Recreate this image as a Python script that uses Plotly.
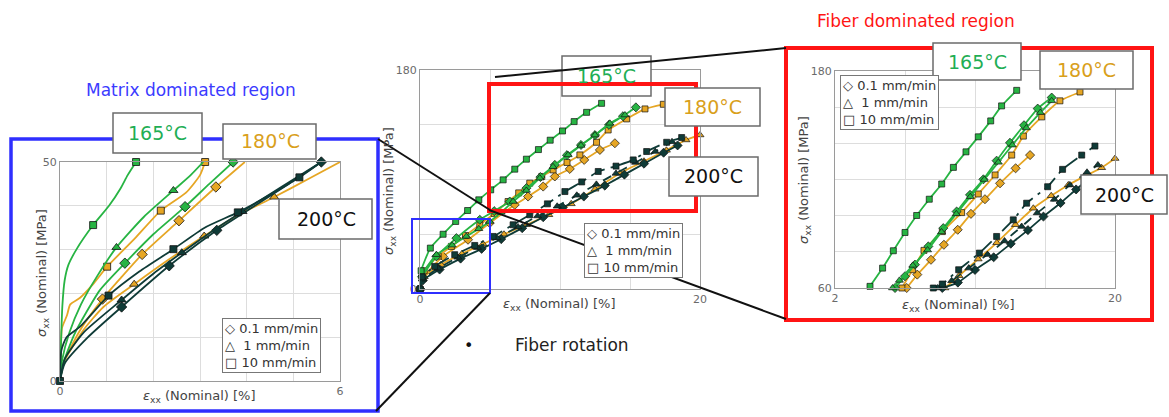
import plotly.graph_objects as go

# ---------------- data ----------------
TEMPS = ["165°C", "180°C", "200°C"]
RATES = ["0.1 mm/min", "1 mm/min", "10 mm/min"]

# Left inset: matrix dominated region (strain %, stress MPa) - line points
L165_01_X = [0, 0.07, 0.3, 0.57, 0.86, 1.39, 2.0, 2.68, 3.2, 3.71]
L165_01_Y = [0, 4, 10.5, 15.8, 20.8, 26.9, 33.5, 39.8, 45, 50]
L165_1_X = [0, 0.05, 0.2, 0.45, 0.8, 1.21, 1.8, 2.43, 2.8, 3.07]
L165_1_Y = [0, 5, 11, 17.5, 24, 30.5, 37.5, 43.5, 47, 50]
L165_10_X = [0, 0.02, 0.05, 0.1, 0.18, 0.35, 0.71, 1.05, 1.3, 1.45, 1.63]
L165_10_Y = [0, 8, 17, 23, 26.5, 30, 35.6, 40, 44, 47, 50]
L180_01_X = [0, 0.07, 0.43, 0.91, 1.3, 1.76, 2.55, 3.34, 3.96]
L180_01_Y = [0, 4, 11.6, 18.7, 23.5, 28.9, 36.6, 44.3, 50]
L180_1_X = [0, 0.07, 0.5, 0.93, 1.59, 2.3, 3.09, 3.8, 4.59, 5.3, 6.0]
L180_1_Y = [0, 4, 11.6, 16.9, 22.1, 27.5, 33.1, 37.8, 42, 46, 50]
L180_10_X = [0, 0.02, 0.04, 0.15, 0.22, 0.43, 0.7, 1.01, 1.6, 2.16, 2.7, 3.0, 3.11]
L180_10_Y = [0, 6, 12, 15, 17.5, 19, 22, 26.1, 32.5, 38.9, 43, 47, 50]
L200_01_X = [0, 0.1, 0.6, 1.32, 2.34, 3.36, 4.1, 4.9, 5.6]
L200_01_Y = [0, 4, 10, 16.9, 26.3, 34.4, 39.5, 45, 50]
L200_1_X = [0, 0.1, 0.5, 1.32, 2.0, 2.61, 3.3, 3.91, 4.7, 5.6]
L200_1_Y = [0, 5, 11, 18.5, 24.5, 29.3, 34.5, 38.7, 44, 50]
L200_10_X = [0, 0.03, 0.14, 0.43, 1.04, 1.7, 2.43, 3.1, 3.81, 4.5, 5.13, 5.6]
L200_10_Y = [0, 7, 10, 12.4, 19.5, 25, 30.1, 35, 38.5, 42.5, 46.5, 50]

# Left inset - marker points
LM165_01_X = [1.39, 2.68, 3.71]
LM165_01_Y = [26.9, 39.8, 50]
LM165_1_X = [1.21, 2.43]
LM165_1_Y = [30.5, 43.5]
LM165_10_X = [0.71, 1.63]
LM165_10_Y = [35.6, 50]
LM180_01_X = [0.91, 1.76, 2.55, 3.34]
LM180_01_Y = [18.7, 28.9, 36.6, 44.3]
LM180_1_X = [1.59, 3.09, 4.59]
LM180_1_Y = [22.1, 33.1, 42]
LM180_10_X = [1.01, 2.16, 3.11]
LM180_10_Y = [26.1, 38.9, 50]
LM200_01_X = [1.32, 2.34, 3.36, 5.6]
LM200_01_Y = [16.9, 26.3, 34.4, 50]
LM200_1_X = [1.32, 2.61, 3.91]
LM200_1_Y = [18.5, 29.3, 38.7]
LM200_10_X = [0, 1.04, 2.43, 3.81, 5.13]
LM200_10_Y = [0, 19.5, 30.1, 38.5, 46.5]

# Centre: full curves
C165_01_X = [0, 0.15, 1.17, 2.6, 4.27, 5.3, 6.41, 7.6, 8.6, 9.63, 10.5, 11.5, 12.5, 13.5, 14.5, 15.42]
C165_01_Y = [0, 10, 26.8, 41.8, 56.9, 64, 71.9, 82.9, 92, 102, 110, 118.4, 126.5, 134.9, 142, 149.3]
C165_1_X = [0, 0.15, 1.17, 2.3, 3.31, 4.2, 4.98, 5.8, 6.65, 7.6, 8.56, 9.5, 10.58, 11.5, 12.5, 13.56, 14.64]
C165_1_Y = [0, 12, 28.2, 36, 43.2, 49.5, 55.5, 63, 71.9, 81, 91.1, 100.5, 110.2, 118, 126.5, 136.2, 143]
C165_10_X = [0, 0.08, 0.74, 1.65, 2.55, 3.4, 4.2, 5.05, 5.94, 6.77, 7.6, 8.46, 9.3, 10.18, 11.01, 11.9, 12.97]
C165_10_Y = [0, 15, 33.6, 45, 55.5, 64.5, 73.3, 81.5, 89.7, 98.5, 106.7, 114.6, 122.3, 129.9, 137.6, 145.2, 152.6]
C180_01_X = [0, 0.2, 1.64, 3.43, 4.98, 6.77, 7.72, 8.8, 9.63, 10.7, 11.73, 12.85, 13.92]
C180_01_Y = [0, 9, 26.8, 40.5, 54.2, 69.2, 76, 84.2, 92.5, 98.7, 106.1, 114.3, 119.8]
C180_1_X = [0, 0.3, 1.5, 3, 4.5, 6, 7.6, 9.2, 10.8, 12.5, 14.28, 16, 17.6, 19, 20]
C180_1_Y = [0, 10, 20, 29, 37, 45, 52.8, 61, 70, 82, 95.2, 105, 114, 122.5, 126.6]
C180_10_X = [0, 0.3, 1.3, 2.24, 3.25, 4.27, 5.3, 6.29, 7.05, 7.84, 8.7, 9.51, 10.5, 11.42, 12.61, 13.44, 14.76, 16.07, 17.38]
C180_10_Y = [0, 15, 27, 35, 44, 52.8, 62, 71.9, 79, 87, 92.5, 97.9, 104, 110.2, 120.6, 130.7, 139.8, 148, 151.8]
C200_01_X = [0, 0.2, 1.4, 2.9, 4.4, 5.8, 7.3, 8.8, 10.2, 11.7, 13.2, 14.6, 16, 17.4, 18.4]
C200_01_Y = [0, 7, 16, 25, 33, 41, 50, 59, 67, 76, 85, 94, 103, 112, 118]
C200_1_X = [0, 0.2, 1.3, 2.7, 4.1, 5.5, 7, 8.4, 9.8, 11.2, 12.6, 14, 15.4, 16.8, 18]
C200_1_Y = [0, 8, 17, 26, 34, 42, 51, 60, 68, 77, 86, 95, 104, 113, 121]
C200_10_X = [0, 0.15, 1.05, 2.48, 3.91, 5.22, 6.65, 7.84, 9.1, 10.35, 11.55, 12.73, 14, 15.23, 16.19, 17.62, 18.69]
C200_10_Y = [0, 10, 18.6, 28.2, 35.8, 43.2, 52.8, 61, 70, 80.1, 88, 96.6, 101, 106.1, 113, 120.6, 124.5]

# Right inset: fibre dominated region
R165_01_X = [5.86, 6.5, 7.14, 8.0, 8.96, 9.82, 10.68, 11.54, 12.39, 13.25, 14.15, 15.03, 15.93]
R165_01_Y = [60, 66.5, 72.9, 83, 93.1, 102.3, 111.5, 120.1, 130.4, 140.3, 150, 159.2, 165.3]
R165_1_X = [5.7, 6.14, 7.0, 7.95, 8.85, 9.8, 10.7, 11.6, 12.5, 13.4, 14.3, 15.2, 15.93]
R165_1_Y = [60, 64.2, 72.5, 81, 91, 101, 110.5, 120, 129.5, 139, 148.5, 157, 163.5]
R165_10_X = [4.25, 5.06, 5.75, 6.5, 7.25, 8.06, 8.86, 9.61, 10.42, 11.21, 12.01, 12.71, 13.68]
R165_10_Y = [60.9, 71, 80.6, 90.7, 100.1, 109.1, 117.5, 126.7, 135.3, 143.6, 152.4, 160.7, 169.3]
R180_01_X = [6.61, 7.29, 8.17, 9.0, 9.89, 10.74, 11.64, 12.61, 13.61, 14.54]
R180_01_Y = [60, 67.4, 75.6, 83.9, 92.2, 101, 109.1, 117.9, 126.2, 133.5]
R180_1_X = [9.07, 9.97, 11.2, 12.4, 13.6, 14.75, 15.9, 17.0, 18.1, 19.14, 20]
R180_1_Y = [60, 66.8, 76, 85, 95, 104.1, 111, 117, 122, 126.5, 131.6]
R180_10_X = [6.3, 6.99, 7.72, 8.9, 10.14, 11.21, 12.29, 13.36, 14.11, 15.29, 16.46, 17.75]
R180_10_Y = [60, 70.1, 80.8, 91.2, 101.7, 112, 122.5, 133.5, 144, 154.6, 163.5, 168.4]
R200_01_X = [8.9, 9.9, 11.0, 12.2, 13.3, 14.4, 15.4, 16.5, 17.5, 18.4]
R200_01_Y = [60, 63, 70, 77, 84.5, 92, 99.5, 107, 114.5, 121]
R200_1_X = [8.6, 9.5, 10.6, 11.8, 12.9, 14.0, 15.0, 16.1, 17.1, 18.2, 18.9]
R200_1_Y = [60, 64, 71, 78.5, 86, 94, 101.5, 109, 117, 124, 128]
R200_10_X = [8.32, 8.9, 9.95, 11.28, 12.39, 13.46, 14.32, 15.67, 16.63, 17.86, 18.71]
R200_10_Y = [60, 62.2, 70.1, 79.3, 88.5, 97.7, 106.9, 116, 125.6, 133.5, 138.5]

# axis grid positions (only the end values are labelled)
L_XTICKS = [0, 1, 2, 3, 4, 5, 6]
L_YTICKS = [0, 10, 20, 30, 40, 50]
C_XTICKS = [0, 5, 10, 15, 20]
C_YTICKS = [0, 45, 90, 135, 180]
R_XTICKS = [2, 6.5, 11, 15.5, 20]
R_YTICKS = [60, 80, 100, 120, 140, 160, 180]

# ---------------- style ----------------
W, H = 1169, 417
FONT = "DejaVu Sans"
GREEN, ORANGE, TEAL = "#27b443", "#e6a624", "#0f3b37"
GREEN_T, ORANGE_T = "#1fae55", "#d9a01c"
BLUE, RED = "#2f2fff", "#ff1414"
COL = {"165°C": GREEN, "180°C": ORANGE, "200°C": TEAL}
SYM = {"0.1 mm/min": "diamond", "1 mm/min": "triangle-up", "10 mm/min": "square"}
MSIZE = {"0.1 mm/min": 8, "1 mm/min": 8, "10 mm/min": 7}


def px(x):
    return x / W


def py(y):
    return 1 - y / H


left = {
    ("165°C", "0.1 mm/min"): (L165_01_X, L165_01_Y, LM165_01_X, LM165_01_Y),
    ("165°C", "1 mm/min"): (L165_1_X, L165_1_Y, LM165_1_X, LM165_1_Y),
    ("165°C", "10 mm/min"): (L165_10_X, L165_10_Y, LM165_10_X, LM165_10_Y),
    ("180°C", "0.1 mm/min"): (L180_01_X, L180_01_Y, LM180_01_X, LM180_01_Y),
    ("180°C", "1 mm/min"): (L180_1_X, L180_1_Y, LM180_1_X, LM180_1_Y),
    ("180°C", "10 mm/min"): (L180_10_X, L180_10_Y, LM180_10_X, LM180_10_Y),
    ("200°C", "0.1 mm/min"): (L200_01_X, L200_01_Y, LM200_01_X, LM200_01_Y),
    ("200°C", "1 mm/min"): (L200_1_X, L200_1_Y, LM200_1_X, LM200_1_Y),
    ("200°C", "10 mm/min"): (L200_10_X, L200_10_Y, LM200_10_X, LM200_10_Y),
}
centre = {
    ("165°C", "0.1 mm/min"): (C165_01_X, C165_01_Y),
    ("165°C", "1 mm/min"): (C165_1_X, C165_1_Y),
    ("165°C", "10 mm/min"): (C165_10_X, C165_10_Y),
    ("180°C", "0.1 mm/min"): (C180_01_X, C180_01_Y),
    ("180°C", "1 mm/min"): (C180_1_X, C180_1_Y),
    ("180°C", "10 mm/min"): (C180_10_X, C180_10_Y),
    ("200°C", "0.1 mm/min"): (C200_01_X, C200_01_Y),
    ("200°C", "1 mm/min"): (C200_1_X, C200_1_Y),
    ("200°C", "10 mm/min"): (C200_10_X, C200_10_Y),
}
right = {
    ("165°C", "0.1 mm/min"): (R165_01_X, R165_01_Y),
    ("165°C", "1 mm/min"): (R165_1_X, R165_1_Y),
    ("165°C", "10 mm/min"): (R165_10_X, R165_10_Y),
    ("180°C", "0.1 mm/min"): (R180_01_X, R180_01_Y),
    ("180°C", "1 mm/min"): (R180_1_X, R180_1_Y),
    ("180°C", "10 mm/min"): (R180_10_X, R180_10_Y),
    ("200°C", "0.1 mm/min"): (R200_01_X, R200_01_Y),
    ("200°C", "1 mm/min"): (R200_1_X, R200_1_Y),
    ("200°C", "10 mm/min"): (R200_10_X, R200_10_Y),
}

fig = go.Figure()
ORDER = ["180°C", "165°C", "200°C"]
DASH = {"0.1 mm/min": "solid", "1 mm/min": "dash", "10 mm/min": "longdashdot"}

# left panel
for t in ORDER:
    for r in RATES:
        lx, ly, mx, my = left[(t, r)]
        fig.add_trace(go.Scatter(x=lx, y=ly, mode="lines", xaxis="x", yaxis="y",
                                 line=dict(color=COL[t], width=1.8, shape="spline", smoothing=0.6),
                                 showlegend=False, hoverinfo="skip"))
        fig.add_trace(go.Scatter(x=mx, y=my, mode="markers", xaxis="x", yaxis="y", cliponaxis=False,
                                 marker=dict(symbol=SYM[r], size=MSIZE[r], color=COL[t],
                                             line=dict(color="#111", width=0.8)),
                                 showlegend=False, name=f"{t} {r}"))

for data, xa, ya in [(centre, "x2", "y2"), (right, "x3", "y3")]:
    for t in ORDER:
        for r in RATES:
            x, y = data[(t, r)]
            dash = DASH[r] if t == "200°C" else "solid"
            fig.add_trace(go.Scatter(x=x, y=y, mode="lines+markers", xaxis=xa, yaxis=ya, cliponaxis=False,
                                     line=dict(color=COL[t], width=1.8, dash=dash, shape="spline", smoothing=0.5),
                                     marker=dict(symbol=SYM[r], size=MSIZE[r] - 1, color=COL[t],
                                                 line=dict(color="#111", width=0.7)),
                                     showlegend=False, name=f"{t} {r}"))


def axis(dom, rng, ticks, anchor):
    ends = [ticks[0], ticks[-1]]
    return dict(domain=dom, range=rng, tickvals=ends, ticktext=[f"{v:g}" for v in ends],
                showgrid=True, gridcolor="#dddddd", gridwidth=1, zeroline=False,
                minor=dict(tickvals=ticks[1:-1], showgrid=True, gridcolor="#dddddd", gridwidth=1, ticks=""),
                showline=True, linecolor="#9a9a9a", linewidth=1, mirror=True, ticks="",
                automargin=False,
                tickfont=dict(family=FONT, size=11, color="#6a6a6a"), anchor=anchor, fixedrange=True)


fig.update_layout(
    width=W, height=H, margin=dict(l=0, r=0, t=0, b=0, pad=0), autosize=False,
    paper_bgcolor="white", plot_bgcolor="white",
    xaxis=axis([px(60), px(340)], [0, 6], L_XTICKS, "y"),
    yaxis=axis([py(381), py(162)], [0, 50], L_YTICKS, "x"),
    xaxis2=axis([px(420), px(700)], [0, 20], C_XTICKS, "y2"),
    yaxis2=axis([py(289), py(70)], [0, 180], C_YTICKS, "x2"),
    xaxis3=axis([px(835), px(1115)], [2, 20], R_XTICKS, "y3"),
    yaxis3=axis([py(288), py(71)], [60, 180], R_YTICKS, "x3"),
)

shapes = []


def rect(x0, y0, x1, y1, color, width, fill=None):
    shapes.append(dict(type="rect", xref="paper", yref="paper", x0=px(x0), x1=px(x1), y0=py(y1), y1=py(y0),
                       line=dict(color=color, width=width), fillcolor=fill or "rgba(0,0,0,0)", layer="above"))


def seg(x0, y0, x1, y1):
    shapes.append(dict(type="line", xref="paper", yref="paper", x0=px(x0), x1=px(x1), y0=py(y0), y1=py(y1),
                       line=dict(color="#111", width=2), layer="above"))


BOXGREY = "#6b6b6b"
# centre 165 box lies beneath the red box and line
rect(562, 56, 651, 96, BOXGREY, 1.5, "white")
# zoom frames and connecting lines
rect(11, 139, 378, 411, BLUE, 3.5)
rect(412, 219, 490, 293, BLUE, 2)
rect(489, 84, 696, 211, RED, 4)
rect(786, 48, 1152, 320, RED, 4)
seg(378, 139, 490, 210)
seg(376, 411, 490, 293)
seg(495, 77, 786, 48)
seg(489, 210, 786, 319)
# temperature label boxes
for b in [(113, 113, 202, 153), (223, 124, 316, 159), (279, 199, 372, 239),
          (665, 88, 760, 126), (669, 157, 758, 196),
          (933, 43, 1021, 80), (1040, 51, 1133, 89), (1081, 175, 1167, 214)]:
    rect(*b, BOXGREY, 1.5, "white")

ann = []


def text(x, y, s, size, color, **kw):
    d = dict(xref="paper", yref="paper", x=px(x), y=py(y), text=s, showarrow=False,
             font=dict(family=FONT, size=size, color=color), xanchor="center", yanchor="middle")
    d.update(kw)
    ann.append(d)


TCOL = {"165°C": GREEN_T, "180°C": ORANGE_T, "200°C": "#111111"}
for t, (x, y) in zip(TEMPS * 3, [(157, 133), (270, 141), (326, 219),
                                  (606, 76), (712, 107), (713, 176),
                                  (977, 62), (1086, 70), (1124, 195)]):
    text(x, y, t, 19, TCOL[t])

# axis titles
XT = "<i>ε</i><sub>xx</sub> (Nominal) [%]"
YT = "<i>σ</i><sub>xx</sub> (Nominal) [MPa]"
for (x, y) in [(199, 396), (559, 304), (958, 305)]:
    text(x, y, XT, 13, "#444")
for (x, y) in [(42, 273), (389, 191), (804, 180)]:
    text(x, y, YT, 13, "#444", textangle=-90)

# legends
LEG = ("◇ 0.1 mm/min<br>△\u00a0\u00a01 mm/min<br>□ 10 mm/min")
for (x, y) in [(222, 318), (584, 223), (840, 75)]:
    text(x, y, LEG, 13, "#333", xanchor="left", yanchor="top", align="left",
         bordercolor="#777", borderwidth=1, borderpad=2, bgcolor="white")

text(191, 90, "Matrix dominated region", 17, "#3b3bff")
text(916, 21, "Fiber dominated region", 17, RED)
text(468, 345, "•", 16, "#111")
text(572, 345, "Fiber rotation", 17, "#222")

fig.update_layout(shapes=shapes, annotations=ann)
PAGE_FIX = ("document.documentElement.style.margin='0';document.documentElement.style.padding='0';"
            "document.documentElement.style.overflow='hidden';"
            "document.body.style.margin='0';document.body.style.padding='0';"
            "document.body.style.overflow='hidden';")
fig.write_html("out.html", config={"displayModeBar": False}, post_script=PAGE_FIX)
